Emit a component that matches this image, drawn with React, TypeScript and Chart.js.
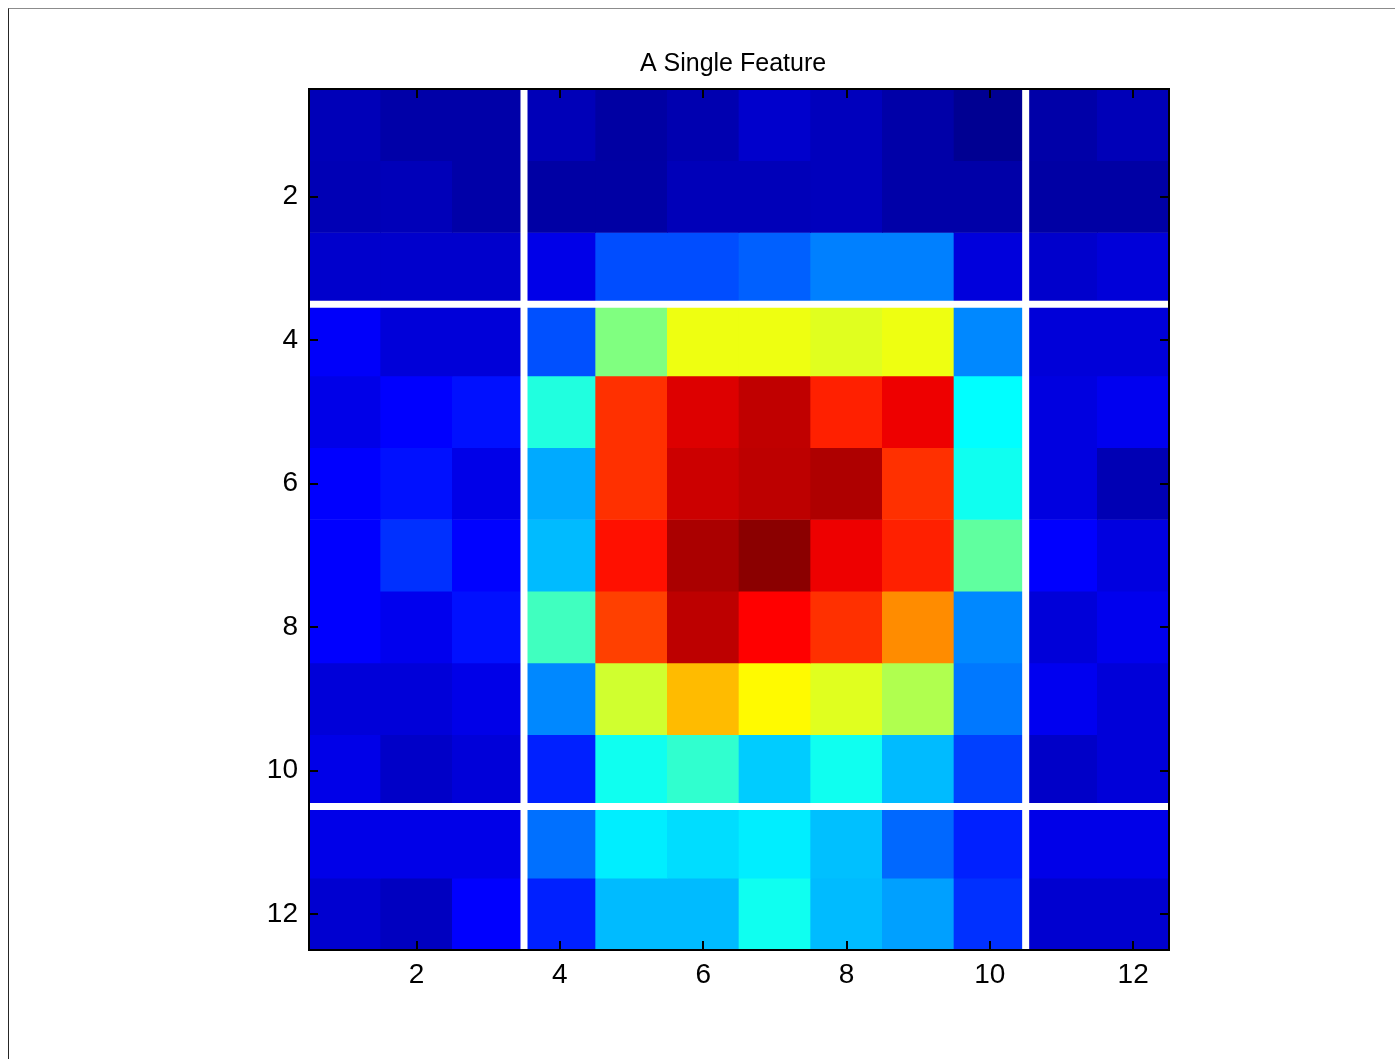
import React, { useEffect, useRef } from "react";
import { Chart, registerables } from "chart.js";

Chart.register(...registerables);

const chartTitle = "A Single Feature";
const xCategories = [1, 2, 3, 4, 5, 6, 7, 8, 9, 10, 11, 12];
const yCategories = [1, 2, 3, 4, 5, 6, 7, 8, 9, 10, 11, 12];
const xTickValues = [2, 4, 6, 8, 10, 12];
const yTickValues = [2, 4, 6, 8, 10, 12];
const separatorX = [3.5, 10.5];
const separatorY = [3.5, 10.5];

// cell values (0..1, jet colour scale), one array per image row
const row01 = [0.055, 0.04, 0.04, 0.055, 0.035, 0.048, 0.075, 0.06, 0.04, 0.018, 0.04, 0.055];
const row02 = [0.052, 0.056, 0.04, 0.036, 0.036, 0.056, 0.056, 0.06, 0.04, 0.04, 0.036, 0.036];
const row03 = [0.075, 0.075, 0.075, 0.102, 0.2, 0.2, 0.219, 0.25, 0.25, 0.091, 0.075, 0.088];
const row04 = [0.12, 0.088, 0.088, 0.203, 0.5, 0.608, 0.608, 0.595, 0.608, 0.258, 0.088, 0.088];
const row05 = [0.102, 0.125, 0.141, 0.406, 0.828, 0.908, 0.937, 0.844, 0.892, 0.375, 0.095, 0.11];
const row06 = [0.125, 0.141, 0.102, 0.292, 0.828, 0.925, 0.94, 0.954, 0.828, 0.39, 0.095, 0.051];
const row07 = [0.125, 0.172, 0.127, 0.308, 0.859, 0.958, 0.989, 0.892, 0.844, 0.469, 0.125, 0.095];
const row08 = [0.125, 0.108, 0.141, 0.4375, 0.8125, 0.94, 0.875, 0.828, 0.738, 0.258, 0.088, 0.108];
const row09 = [0.088, 0.088, 0.102, 0.258, 0.579, 0.692, 0.63, 0.595, 0.548, 0.243, 0.11, 0.088];
const row10 = [0.102, 0.071, 0.088, 0.156, 0.39, 0.422, 0.325, 0.39, 0.308, 0.1875, 0.071, 0.088];
const row11 = [0.102, 0.102, 0.102, 0.235, 0.358, 0.342, 0.358, 0.313, 0.227, 0.156, 0.102, 0.102];
const row12 = [0.079, 0.063, 0.125, 0.156, 0.308, 0.308, 0.39, 0.308, 0.282, 0.172, 0.079, 0.079];
const gridRows = [row01, row02, row03, row04, row05, row06, row07, row08, row09, row10, row11, row12];

const FONT = "'Liberation Sans', Arial, Helvetica, sans-serif";

function clamp01(v: number) {
  return Math.max(0, Math.min(1, v));
}

function jet(v: number): string {
  const r = clamp01(1.5 - Math.abs(4 * v - 3));
  const g = clamp01(1.5 - Math.abs(4 * v - 2));
  const b = clamp01(1.5 - Math.abs(4 * v - 1));
  return `rgb(${Math.round(r * 255)},${Math.round(g * 255)},${Math.round(b * 255)})`;
}

const framePlugin = {
  id: "matlabFrame",
  afterDatasetsDraw(chart: any) {
    const { ctx, chartArea: a, scales } = chart;
    const xs = scales.x;
    const ys = scales.y;
    const tl = 9;
    ctx.save();
    ctx.strokeStyle = "#000";
    ctx.lineWidth = 2;
    ctx.beginPath();
    for (const t of xs.ticks) {
      const px = Math.round(xs.getPixelForValue(t.value));
      ctx.moveTo(px, a.bottom);
      ctx.lineTo(px, a.bottom - tl);
      ctx.moveTo(px, a.top);
      ctx.lineTo(px, a.top + tl);
    }
    for (const t of ys.ticks) {
      const py = Math.round(ys.getPixelForValue(t.value));
      ctx.moveTo(a.left, py);
      ctx.lineTo(a.left + tl, py);
      ctx.moveTo(a.right, py);
      ctx.lineTo(a.right - tl, py);
    }
    ctx.stroke();
    ctx.strokeRect(a.left, a.top, a.right - a.left, a.bottom - a.top);
    ctx.restore();
  },
};

export default function App() {
  const canvasRef = useRef<HTMLCanvasElement | null>(null);

  useEffect(() => {
    const canvas = canvasRef.current;
    if (!canvas) return;

    const barDatasets = yCategories.map((row, ri) => ({
      type: "bar" as const,
      label: `row ${row}`,
      data: xCategories.map((col) => ({ x: col, y: [row - 0.5, row + 0.5] })),
      backgroundColor: gridRows[ri].map((v) => jet(v)),
      borderWidth: 0,
      grouped: false,
      barPercentage: 1,
      categoryPercentage: 1,
      order: 2,
    }));

    const lineStyle = {
      borderColor: "#ffffff",
      borderWidth: 7,
      pointRadius: 0,
      fill: false,
      tension: 0,
      order: 1,
    };
    const vLines = separatorX.map((sx) => ({
      type: "line" as const,
      label: `x=${sx}`,
      data: [
        { x: sx, y: 0.5 },
        { x: sx, y: 12.5 },
      ],
      ...lineStyle,
    }));
    const hLines = separatorY.map((sy) => ({
      type: "line" as const,
      label: `y=${sy}`,
      data: [
        { x: 0.5, y: sy },
        { x: 12.5, y: sy },
      ],
      ...lineStyle,
    }));

    // canvas starts at page x=250; chart area spans page x 309..1169
    const chart = new Chart(canvas, {
      type: "bar",
      data: { datasets: [...barDatasets, ...vLines, ...hLines] as any },
      options: {
        responsive: false,
        animation: false,
        events: [],
        layout: { padding: { top: 0, left: 0, right: 4, bottom: 0 } },
        plugins: {
          legend: { display: false },
          tooltip: { enabled: false },
          title: {
            display: true,
            text: chartTitle,
            color: "#000",
            font: { family: FONT, size: 25, weight: "normal" as any },
            padding: { top: 40, bottom: 10 },
          },
        },
        scales: {
          x: {
            type: "linear",
            offset: false,
            min: 0.5,
            max: 12.5,
            grid: { display: false, drawTicks: false, offset: false },
            border: { display: false },
            ticks: {
              color: "#000",
              font: { family: FONT, size: 28 },
              padding: 8,
              maxRotation: 0,
              autoSkip: false,
              callback: (v: any) => String(v),
            },
            afterBuildTicks: (s: any) => {
              s.ticks = xTickValues.map((value) => ({ value }));
            },
            afterFit: (s: any) => {
              s.height = 59;
            },
          },
          y: {
            type: "linear",
            position: "left",
            reverse: true,
            offset: false,
            min: 0.5,
            max: 12.5,
            grid: { display: false, drawTicks: false },
            border: { display: false },
            ticks: {
              color: "#000",
              font: { family: FONT, size: 28 },
              padding: 11,
              autoSkip: false,
              callback: (v: any) => String(v),
            },
            afterBuildTicks: (s: any) => {
              s.ticks = yTickValues.map((value) => ({ value }));
            },
            afterFit: (s: any) => {
              s.width = 59;
            },
          },
          yRight: {
            type: "linear",
            position: "right",
            min: 0,
            max: 1,
            grid: { display: false, drawTicks: false },
            border: { display: false },
            ticks: { display: false },
            afterFit: (s: any) => {
              s.width = 47;
            },
          },
        },
      } as any,
      plugins: [framePlugin],
    });

    return () => {
      chart.destroy();
    };
  }, []);

  return (
    <div
      style={{
        position: "fixed",
        left: 8,
        top: 8,
        right: 0,
        bottom: 0,
        borderTop: "1px solid #8c8c8c",
        borderLeft: "1px solid #262626",
        background: "#fff",
      }}
    >
      <canvas
        ref={canvasRef}
        width={970}
        height={1000}
        style={{ position: "absolute", left: 241, top: 0, width: 970, height: 1000 }}
      />
    </div>
  );
}
